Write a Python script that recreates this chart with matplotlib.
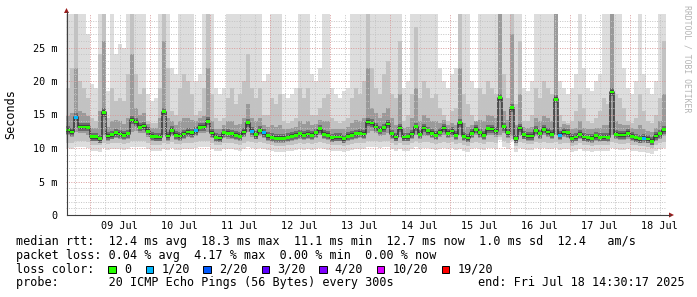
import matplotlib
matplotlib.use("Agg")
import matplotlib.pyplot as plt
import matplotlib.dates as mdates
from matplotlib.patches import Rectangle, Polygon
from matplotlib.lines import Line2D
from datetime import datetime, timedelta

W, H = 697, 297

start = datetime(2025, 7, 8, 14, 30, 17)
end = datetime(2025, 7, 18, 14, 30, 17)
step_min = 96

# median rtt per sample (ms)
rtt_med = [
    12.7, 12.4, 14.6, 13.15, 13.15, 13.1, 11.7, 11.7, 11.4, 15.3,
    11.8, 12.0, 12.3, 12.1, 11.9, 12.15, 14.2, 13.9, 13.1, 13.3,
    12.5, 11.75, 11.7, 11.65, 15.4, 11.8, 12.65, 11.9, 11.8, 12.1,
    12.4, 12.3, 12.6, 13.1, 13.15, 14.0, 12.25, 11.6, 11.5, 12.3,
    12.2, 12.15, 11.9, 11.75, 12.4, 13.8, 12.5, 12.0, 12.65, 12.3,
    11.85, 11.6, 11.45, 11.45, 11.45, 11.6, 11.75, 11.9, 12.15, 11.9,
    12.1, 11.9, 12.3, 12.9, 12.05, 11.9, 11.55, 11.65, 11.65, 11.4,
    11.75, 11.9, 12.15, 12.2, 12.1, 13.9, 13.75, 13.15, 12.65, 13.05,
    13.6, 12.15, 11.65, 13.0, 11.65, 11.7, 12.1, 13.2, 12.05, 13.0,
    12.6, 12.2, 11.9, 12.35, 13.0, 12.2, 12.55, 11.9, 13.8, 11.75,
    11.5, 12.2, 12.8, 12.3, 11.9, 12.9, 12.85, 12.55, 17.5, 13.2,
    12.3, 16.0, 11.4, 13.0, 12.0, 11.8, 11.8, 12.65, 12.15, 12.8,
    12.4, 12.05, 17.25, 11.9, 12.4, 12.3, 11.45, 11.65, 12.05, 11.65,
    11.55, 11.45, 11.85, 11.6, 11.65, 11.6, 18.35, 12.05, 11.95, 11.95,
    12.2, 11.75, 11.55, 11.4, 11.45, 11.35, 11.0, 11.8, 12.15, 12.75,
]

rtt_max = [
    30, 30, 30, 30, 30, 27, 19.5, 19, 30, 30,
    18.5, 30, 24, 25.5, 25, 30, 30, 30, 30, 30,
    18, 17, 17.5, 30, 30, 30, 22, 21, 30, 30,
    30, 30, 20, 21, 30, 30, 30, 19, 18, 19,
    30, 30, 30, 30, 30, 30, 30, 30, 30, 20,
    21, 30, 30, 30, 18, 17.5, 18, 19, 30, 30,
    30, 21, 20, 22, 30, 30, 19, 18, 17.5, 18.5,
    19, 30, 30, 30, 30, 30, 30, 30, 30, 30,
    30, 30, 30, 30, 19, 20, 30, 30, 30, 30,
    30, 30, 30, 22, 20, 19, 21, 22, 30, 30,
    30, 20, 19, 30, 30, 30, 30, 30, 30, 30,
    30, 30, 30, 30, 19, 18.5, 20, 30, 30, 30,
    30, 30, 30, 20, 19, 18, 19, 21, 30, 22,
    19, 18.5, 20, 21, 30, 30, 30, 30, 30, 22,
    19, 18, 20, 30, 21, 19, 18, 20, 30, 30,
]

rtt_p90 = [
    19, 22, 30, 20, 19, 17.5, 14.5, 14, 24, 30,
    14.5, 19, 17, 17.5, 17, 21, 30, 21, 18, 19,
    14, 13.8, 13.8, 19, 30, 22, 15.5, 15, 19, 21,
    20, 18, 15, 15.5, 19, 30, 18, 14.5, 14, 14.5,
    17.5, 19, 16.5, 18, 20, 24, 19, 17.5, 19, 15,
    15, 17.5, 16.5, 18, 14, 13.8, 14, 14.5, 19, 17.5,
    19, 15, 15, 16, 17.5, 18, 14.5, 14, 13.8, 14,
    14.5, 17.5, 19, 18, 20, 30, 22, 19, 18, 21,
    23, 18, 17.5, 26, 14, 15, 18, 28, 17.5, 20,
    19, 17.5, 18, 16, 15, 14, 15.5, 16, 30, 18,
    16.5, 15, 14, 19, 18, 20, 19, 18, 30, 21,
    17.5, 30, 16.5, 26, 14, 14, 15, 19, 17.5, 20,
    19, 18, 30, 15, 14, 13.8, 14, 15.5, 18, 16,
    14, 13.8, 14.5, 15.5, 17.5, 16.5, 30, 18, 17.5, 16,
    14, 13.8, 14.5, 18, 15.5, 14, 13.8, 15, 17.5, 26,
]

rtt_p75 = [
    14.8, 15.2, 22, 15.5, 15.2, 14.8, 13, 13, 15.5, 26,
    13.2, 14, 14.2, 14, 13.6, 14.5, 24, 16, 15, 15.2,
    13.6, 13, 13, 14.5, 26, 14.5, 14, 13.5, 14, 14.5,
    14.5, 14.2, 14, 14.5, 14.8, 22, 14, 12.8, 12.8, 13.5,
    14, 14, 13.5, 13.6, 14.5, 16.5, 14.5, 14, 14.5, 13.5,
    13.2, 13.5, 13.2, 13.5, 12.8, 12.8, 13, 13.2, 14, 13.6,
    14, 13.4, 13.6, 14.2, 14, 14, 12.8, 12.9, 12.9, 12.8,
    13.2, 13.8, 14.2, 14, 14.5, 22, 16, 15.2, 14.5, 15.2,
    16, 14.5, 13.5, 18, 13, 13.2, 14.5, 19, 14, 15,
    14.5, 14, 14, 13.8, 14.2, 13.4, 13.8, 13.4, 22, 13.8,
    13.2, 13.4, 14, 14.2, 14, 15, 14.8, 14.5, 30, 15.5,
    14.2, 27, 13.5, 18, 13.2, 13, 13.2, 14.5, 14, 14.8,
    14.5, 14, 30, 13.2, 13.6, 13.5, 12.8, 13, 14, 13,
    12.8, 12.8, 13, 13, 13.5, 13.4, 30, 14, 13.6, 13.4,
    13.4, 13, 12.8, 13.5, 12.8, 12.6, 12.4, 13, 14, 18,
]

rtt_p25 = [
    11.9, 11.7, 12.4, 12.2, 12.2, 12.0, 11.0, 11.0, 10.9, 12.0,
    11.1, 11.3, 11.5, 11.4, 11.2, 11.4, 12.4, 12.6, 12.2, 12.3,
    11.7, 11.0, 11.0, 11.0, 12.0, 11.1, 11.8, 11.2, 11.1, 11.4,
    11.6, 11.5, 11.8, 12.2, 12.2, 12.4, 11.5, 10.9, 10.9, 11.5,
    11.4, 11.4, 11.2, 11.1, 11.6, 12.4, 11.7, 11.3, 11.8, 11.5,
    11.1, 10.9, 10.8, 10.8, 10.8, 10.9, 11.1, 11.2, 11.4, 11.2,
    11.4, 11.2, 11.5, 11.9, 11.3, 11.2, 10.9, 11.0, 11.0, 10.8,
    11.1, 11.2, 11.4, 11.5, 11.4, 12.3, 12.5, 12.2, 11.8, 12.0,
    12.2, 11.4, 11.0, 11.6, 11.0, 11.0, 11.4, 12.0, 11.3, 11.8,
    11.8, 11.5, 11.2, 11.6, 11.9, 11.5, 11.7, 11.2, 12.0, 11.1,
    10.9, 11.5, 11.9, 11.5, 11.2, 11.9, 11.9, 11.7, 12.0, 12.2,
    11.5, 11.8, 10.8, 11.8, 11.3, 11.1, 11.1, 11.8, 11.4, 11.9,
    11.6, 11.3, 11.9, 11.2, 11.6, 11.5, 10.8, 11.0, 11.3, 11.0,
    10.9, 10.8, 11.1, 10.9, 11.0, 10.9, 11.9, 11.3, 11.2, 11.2,
    11.4, 11.1, 10.9, 10.8, 10.8, 10.7, 10.4, 11.1, 11.4, 11.8,
]

rtt_p10 = [
    10.8, 10.7, 11.0, 11.0, 11.0, 10.9, 10.5, 10.5, 10.4, 10.8,
    10.6, 10.7, 10.8, 10.7, 10.6, 10.7, 11.0, 11.1, 11.0, 11.0,
    10.8, 10.5, 10.5, 10.5, 10.8, 10.6, 10.9, 10.6, 10.6, 10.7,
    10.8, 10.8, 10.9, 11.0, 11.0, 11.0, 10.8, 10.4, 10.4, 10.8,
    10.7, 10.7, 10.6, 10.5, 10.8, 11.0, 10.9, 10.7, 10.9, 10.8,
    10.6, 10.4, 10.3, 10.3, 10.3, 10.4, 10.5, 10.6, 10.7, 10.6,
    10.7, 10.6, 10.8, 10.9, 10.7, 10.6, 10.4, 10.4, 10.4, 10.3,
    10.5, 10.6, 10.7, 10.8, 10.7, 11.0, 11.1, 11.0, 10.9, 11.0,
    11.0, 10.7, 10.5, 10.8, 10.5, 10.5, 10.7, 11.0, 10.7, 10.9,
    10.9, 10.8, 10.6, 10.8, 10.9, 10.8, 10.9, 10.6, 10.8, 10.5,
    10.3, 10.7, 10.9, 10.8, 10.6, 10.9, 10.9, 10.8, 11.6, 11.0,
    10.8, 11.4, 10.3, 10.9, 10.7, 10.6, 10.6, 10.9, 10.7, 10.9,
    10.8, 10.7, 10.9, 10.6, 10.8, 10.8, 10.3, 10.4, 10.7, 10.4,
    10.4, 10.3, 10.5, 10.4, 10.5, 10.4, 10.9, 10.7, 10.6, 10.6,
    10.7, 10.5, 10.4, 10.3, 10.3, 10.2, 10.0, 10.5, 10.7, 10.9,
]

rtt_min = [
    10.0, 9.9, 10.2, 10.1, 10.1, 10.0, 9.6, 9.6, 9.4, 10.0,
    9.7, 9.8, 9.9, 9.8, 9.7, 9.8, 10.1, 10.2, 10.1, 10.1,
    9.9, 9.6, 9.6, 9.5, 9.9, 9.7, 10.0, 9.7, 9.7, 9.8,
    9.9, 9.9, 10.0, 10.1, 10.1, 10.1, 9.9, 9.5, 9.5, 9.9,
    9.8, 9.8, 9.7, 9.6, 9.9, 10.1, 10.0, 9.8, 10.0, 9.9,
    9.7, 9.5, 9.4, 9.4, 9.4, 9.5, 9.6, 9.7, 9.8, 9.7,
    9.8, 9.7, 9.9, 10.0, 9.8, 9.7, 9.5, 9.5, 9.5, 9.4,
    9.6, 9.7, 9.8, 9.9, 9.8, 10.1, 10.2, 10.1, 10.0, 10.1,
    10.1, 9.8, 9.6, 9.9, 9.6, 9.6, 9.8, 10.1, 9.8, 10.0,
    10.0, 9.9, 9.7, 9.9, 10.0, 9.9, 10.0, 9.7, 9.9, 9.6,
    9.4, 9.8, 10.0, 9.9, 9.7, 10.0, 10.0, 9.9, 11.2, 10.1,
    9.9, 11.0, 9.4, 10.0, 9.8, 9.7, 9.7, 10.0, 9.8, 10.0,
    9.9, 9.8, 10.0, 9.7, 9.9, 9.9, 9.4, 9.5, 9.8, 9.5,
    9.5, 9.4, 9.6, 9.5, 9.6, 9.5, 10.0, 9.8, 9.7, 9.7,
    9.8, 9.6, 9.5, 9.4, 9.4, 9.3, 9.1, 9.6, 9.8, 10.0,
]

# lost pings out of 20 per sample
loss = [0] * 150
for i in (2, 32, 46, 49, 123, 144):
    loss[i] = 1

loss_steps = [0, 1, 2, 3, 4, 10, 19]
loss_labels = ["0", "1/20", "2/20", "3/20", "4/20", "10/20", "19/20"]
loss_colors = ["#26ff00", "#00b8ff", "#0059ff", "#5e00ff", "#7e00ff", "#dd00ff", "#ff0000"]

legend_lines = [
    "median rtt:  12.4 ms avg  18.3 ms max  11.1 ms min  12.7 ms now  1.0 ms sd  12.4   am/s",
    "packet loss: 0.04 % avg  4.17 % max  0.00 % min  0.00 % now",
    "loss color:",
    "probe:       20 ICMP Echo Pings (56 Bytes) every 300s",
]
end_label = "end: Fri Jul 18 14:30:17 2025"

MONO = "DejaVu Sans Mono"


def fx(px):
    return px / W


def fy(py):
    return 1 - py / H


def ext(a):
    return list(a) + [a[-1]]


def main():
    fig = plt.figure(figsize=(W / 100, H / 100), dpi=100)
    ax = fig.add_axes([fx(66), fy(215), fx(666) - fx(66), fy(14) - fy(215)])

    n = len(rtt_med)
    edges = mdates.date2num([start + timedelta(minutes=step_min * i) for i in range(n + 1)])
    step = edges[1] - edges[0]

    # smoke, outer (light) to inner (dark)
    ax.fill_between(edges, ext(rtt_min), ext(rtt_max), step="post", color="#dddddd", lw=0, zorder=1)
    ax.fill_between(edges, ext(rtt_p10), ext(rtt_p90), step="post", color="#c2c2c2", lw=0, zorder=1.1)
    ax.fill_between(edges, ext(rtt_p25), ext(rtt_p75), step="post", color="#9a9a9a", lw=0, zorder=1.2)
    med = ext(rtt_med)
    ax.fill_between(edges, [m - 0.6 for m in med], [m + 0.6 for m in med], step="post",
                    color="#6c6c6c", lw=0, zorder=1.3)
    ax.fill_between(edges, [m - 0.3 for m in med], [m + 0.3 for m in med], step="post",
                    color="#444444", lw=0, zorder=1.4)
    ax.step(edges, med, where="post", color="#333333", lw=1.1, zorder=1.5)

    colors = [loss_colors[loss_steps.index(v)] for v in loss]
    ax.bar(edges[:-1], [0.4] * n, bottom=[m - 0.2 for m in rtt_med], width=step,
           align="edge", color=colors, lw=0, zorder=5)

    x0, x1 = mdates.date2num(start), mdates.date2num(end)
    ax.set_xlim(x0, x1)
    ax.set_ylim(0, 30)

    # grid
    for v in range(1, 30):
        if v % 5:
            ax.axhline(v, color="#c4c4c4", lw=0.7, ls=(0, (1, 1.5)), zorder=3)
    for v in (5, 10, 15, 20, 25):
        ax.axhline(v, color="#d99a9a", lw=0.7, ls=(0, (1, 1.5)), zorder=3.1)
    t = datetime(2025, 7, 8, 18)
    while t < end:
        if t.hour == 0:
            ax.axvline(mdates.date2num(t), color="#d99a9a", lw=0.7, ls=(0, (1, 1.5)), zorder=3.1)
        else:
            ax.axvline(mdates.date2num(t), color="#c4c4c4", lw=0.7, ls=(0, (1, 1.5)), zorder=3)
        t += timedelta(hours=6)

    for s in ("top", "right", "left", "bottom"):
        ax.spines[s].set_visible(False)
    ax.set_yticks([0, 5, 10, 15, 20, 25], ["0", "5 m", "10 m", "15 m", "20 m", "25 m"])
    noons = [datetime(2025, 7, d, 12) for d in range(9, 19)]
    ax.set_xticks(mdates.date2num(noons), [d.strftime("%d %b") for d in noons])
    ax.tick_params(axis="both", length=0, labelsize=7.3, labelcolor="black")
    ax.tick_params(axis="y", pad=6)
    ax.tick_params(axis="x", pad=4)
    for lab in ax.get_xticklabels() + ax.get_yticklabels():
        lab.set_family(MONO)

    # axes lines and arrows
    fig.add_artist(Line2D([fx(66.5), fx(670)], [fy(215), fy(215)], color="#404040", lw=0.8))
    fig.add_artist(Line2D([fx(66.5), fx(66.5)], [fy(215), fy(12)], color="#404040", lw=0.8))
    fig.add_artist(Polygon([[fx(64), fy(13)], [fx(69), fy(13)], [fx(66.5), fy(8)]],
                           closed=True, color="#9b1c1c", lw=0))
    fig.add_artist(Polygon([[fx(669), fy(212.5)], [fx(669), fy(217.5)], [fx(674), fy(215)]],
                           closed=True, color="#9b1c1c", lw=0))

    fig.text(fx(11), fy(114), "Seconds", rotation=90, ha="center", va="center",
             family=MONO, fontsize=8.5)
    fig.text(fx(687), fy(59), "RRDTOOL / TOBI OETIKER", rotation=270, ha="center", va="center",
             family=MONO, fontsize=5.9, color="#b4b4b4")

    rows = [241.7, 255.2, 269.2, 282.8]
    for y, txt in zip(rows, legend_lines):
        fig.text(fx(16), fy(y), txt, ha="left", va="center", family=MONO, fontsize=8.5)
    fig.text(fx(478.3), fy(rows[3]), end_label, ha="left", va="center", family=MONO, fontsize=8.5)

    box_x = [108.3, 145.7, 203.3, 261.7, 319.3, 376.7, 441.7]
    for bx, col, lab in zip(box_x, loss_colors, loss_labels):
        fig.add_artist(Rectangle((fx(bx), fy(273)), 7.5 / W, 7 / H, facecolor=col,
                                 edgecolor="black", lw=0.7))
        fig.text(fx(bx + 15.5), fy(rows[2]), lab, ha="left", va="center", family=MONO, fontsize=8.5)

    fig.savefig("out.png", dpi=100)


if __name__ == "__main__":
    main()
